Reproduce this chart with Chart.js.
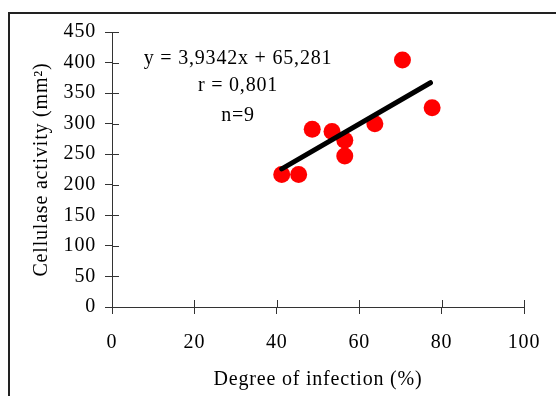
<!DOCTYPE html>
<html>
<head>
<meta charset="utf-8">
<script src="https://cdn.jsdelivr.net/npm/chart.js@4/dist/chart.umd.min.js"></script>
<style>
  html, body { margin: 0; padding: 0; background: #fff; }
  #wrap { position: relative; width: 556px; height: 396px; overflow: hidden; }
  #frame { position: absolute; left: 8px; top: 12px; width: 600px; height: 500px;
           border-left: 2px solid #222; border-top: 2px solid #222; }
  #c { position: absolute; left: 0; top: 0; }
</style>
</head>
<body>
<div id="wrap">
  <div id="frame"></div>
  <canvas id="c" width="556" height="396"></canvas>
</div>
<script>
// Degré d'infection vs activité cellulase
const degreInfection = [41.2, 45.3, 48.6, 53.4, 56.5, 56.5, 63.8, 70.5, 77.7];
const activiteCellulase = [217, 217, 291, 287, 273, 247, 300, 404, 326];

// droite de régression (extrémités)
const tendanceX = [41.2, 77.3];
const tendanceY = [226, 367];

const ticksX = [0, 20, 40, 60, 80, 100];
const ticksY = [0, 50, 100, 150, 200, 250, 300, 350, 400, 450];

const annotations = ['y = 3,9342x + 65,281', 'r = 0,801', 'n=9'];

const police = 'Liberation Serif';

const pointsNuage = degreInfection.map((x, i) => ({ x: x, y: activiteCellulase[i] }));
const pointsTendance = tendanceX.map((x, i) => ({ x: x, y: tendanceY[i] }));

// l'original a un texte un peu espacé
const espacement = {
    id: 'espacement',
    beforeDraw(chart) { chart.ctx.letterSpacing = '0.8px'; }
};

// petits traits de graduation vers l'intérieur (les traits croisent l'axe)
const traitsInterieurs = {
    id: 'traitsInterieurs',
    afterDatasetsDraw(chart) {
        const { ctx, chartArea, scales } = chart;
        ctx.save();
        ctx.strokeStyle = '#333';
        ctx.lineWidth = 1;
        ctx.beginPath();
        ticksX.forEach(v => {
            const px = Math.round(scales.x.getPixelForValue(v)) + 0.5;
            ctx.moveTo(px, chartArea.bottom);
            ctx.lineTo(px, chartArea.bottom - 7);
        });
        ticksY.forEach(v => {
            const py = Math.round(scales.y.getPixelForValue(v)) + 0.5;
            ctx.moveTo(chartArea.left, py);
            ctx.lineTo(chartArea.left + 7, py);
        });
        ctx.stroke();
        ctx.restore();
    }
};

const texteEquation = {
    id: 'texteEquation',
    afterDraw(chart) {
        const ctx = chart.ctx;
        ctx.save();
        ctx.fillStyle = '#000';
        ctx.font = '20px "' + police + '"';
        ctx.letterSpacing = '0.8px';
        ctx.textAlign = 'center';
        ctx.textBaseline = 'middle';
        const cx = 238;
        const lignesY = [59, 86, 115.5];
        annotations.forEach((t, i) => ctx.fillText(t, cx, lignesY[i]));
        ctx.restore();
    }
};

new Chart(document.getElementById('c').getContext('2d'), {
    type: 'scatter',
    data: {
        datasets: [
            {
                type: 'line',
                data: pointsTendance,
                borderColor: '#000',
                borderWidth: 5,
                borderCapStyle: 'round',
                pointRadius: 0,
                fill: false,
                order: 0
            },
            {
                data: pointsNuage,
                backgroundColor: '#FF0000',
                borderWidth: 0,
                pointRadius: 8.5,
                pointHoverRadius: 8.5,
                order: 1
            }
        ]
    },
    options: {
        responsive: false,
        animation: false,
        layout: { padding: { left: 0, top: 32, right: 30, bottom: 0 } },
        plugins: { legend: { display: false }, tooltip: { enabled: false } },
        scales: {
            x: {
                type: 'linear',
                min: 0, max: 100,
                afterBuildTicks: s => { s.ticks = ticksX.map(v => ({ value: v })); },
                afterFit: s => { s.height = 89; },
                grid: { drawOnChartArea: false, tickLength: 7, color: '#333' },
                border: { color: '#333', width: 1 },
                ticks: { color: '#000', padding: 17, font: { family: police, size: 20 } },
                title: {
                    display: true, text: 'Degree of infection (%)', color: '#000',
                    font: { family: police, size: 20 }, padding: { top: 4, bottom: 4 }
                }
            },
            y: {
                min: 0, max: 450,
                afterBuildTicks: s => { s.ticks = ticksY.map(v => ({ value: v })); },
                afterFit: s => { s.width = 112; },
                grid: { drawOnChartArea: false, tickLength: 7, color: '#333' },
                border: { color: '#333', width: 1 },
                ticks: { color: '#000', padding: 9, font: { family: police, size: 20 } },
                title: {
                    display: true, text: 'Cellulase activity (mm²)', color: '#000',
                    font: { family: police, size: 20 }, padding: { top: 30, bottom: 4 }
                }
            }
        }
    },
    plugins: [espacement, traitsInterieurs, texteEquation]
});
</script>
</body>
</html>
